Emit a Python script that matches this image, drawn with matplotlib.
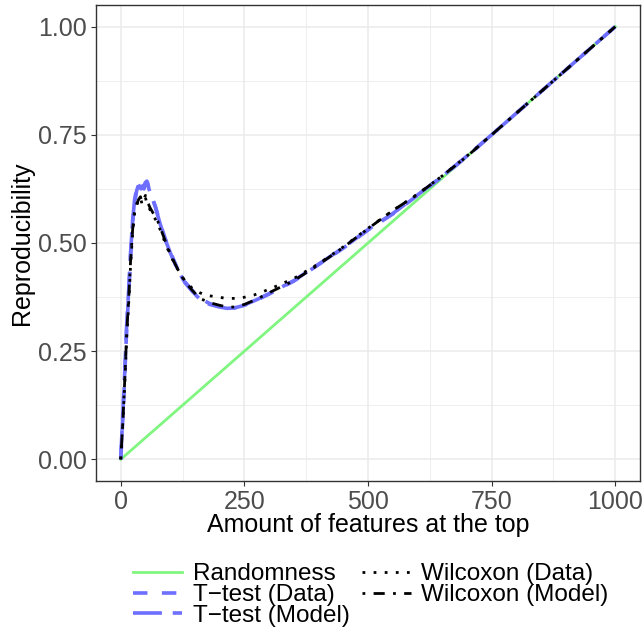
import matplotlib

matplotlib.use("Agg")
import matplotlib.pyplot as plt
from matplotlib.ticker import MultipleLocator

plt.rcParams["font.family"] = ["Liberation Sans", "DejaVu Sans"]

# random ranking: reproducibility grows linearly with the number of features
rand_x = [0, 1000]
rand_y = [0.0, 1.0]

ttest_data_x = [0, 4, 8, 12, 16, 20, 24, 28, 32, 36, 38, 40, 43, 46, 50, 53, 56,
                60, 65, 70, 75, 80, 90, 100, 115, 130, 145, 160, 180, 200, 215,
                230, 250, 275, 300, 350, 400, 450, 500, 550, 600, 650, 700, 750,
                800, 850, 900, 950, 1000]
ttest_data_y = [0.0, 0.09, 0.19, 0.30, 0.38, 0.47, 0.55, 0.59, 0.62, 0.635, 0.64,
                0.63, 0.622, 0.63, 0.64, 0.643, 0.63, 0.615, 0.60, 0.585, 0.565,
                0.545, 0.51, 0.48, 0.44, 0.41, 0.39, 0.372, 0.360, 0.353, 0.350,
                0.350, 0.356, 0.368, 0.382, 0.412, 0.450, 0.488, 0.530, 0.567,
                0.610, 0.653, 0.700, 0.750, 0.800, 0.850, 0.900, 0.950, 1.0]

ttest_model_x = [0, 4, 8, 12, 16, 20, 24, 28, 32, 35, 38, 41, 44, 47, 50, 54, 57,
                 61, 65, 70, 75, 80, 90, 100, 115, 130, 145, 160, 180, 200, 215,
                 230, 250, 275, 300, 350, 400, 450, 500, 550, 600, 650, 700, 750,
                 800, 850, 900, 950, 1000]
ttest_model_y = [0.0, 0.10, 0.20, 0.31, 0.39, 0.48, 0.55, 0.60, 0.625, 0.638, 0.63,
                 0.625, 0.632, 0.625, 0.638, 0.640, 0.625, 0.612, 0.60, 0.583,
                 0.563, 0.543, 0.508, 0.478, 0.438, 0.408, 0.388, 0.370, 0.358,
                 0.352, 0.349, 0.350, 0.357, 0.369, 0.383, 0.413, 0.451, 0.489,
                 0.531, 0.568, 0.611, 0.654, 0.701, 0.750, 0.800, 0.850, 0.900,
                 0.950, 1.0]

wilc_data_x = [0, 4, 8, 12, 16, 20, 24, 28, 32, 36, 40, 43, 46, 50, 53, 56, 60,
               65, 70, 75, 80, 90, 100, 115, 130, 145, 160, 170, 190, 215, 240,
               270, 300, 350, 400, 450, 500, 550, 600, 650, 700, 750, 800, 850,
               900, 950, 1000]
wilc_data_y = [0.0, 0.08, 0.17, 0.28, 0.36, 0.45, 0.52, 0.57, 0.585, 0.60, 0.605,
               0.59, 0.598, 0.605, 0.59, 0.585, 0.575, 0.565, 0.555, 0.545, 0.53,
               0.50, 0.472, 0.44, 0.412, 0.395, 0.385, 0.380, 0.376, 0.372,
               0.372, 0.380, 0.393, 0.418, 0.452, 0.491, 0.534, 0.575, 0.613,
               0.655, 0.701, 0.750, 0.800, 0.850, 0.900, 0.950, 1.0]

wilc_model_x = [0, 4, 8, 12, 16, 20, 24, 28, 32, 36, 40, 43, 46, 50, 53, 56, 60,
                65, 70, 75, 80, 90, 100, 115, 130, 145, 160, 180, 200, 215, 230,
                250, 275, 300, 350, 400, 450, 500, 550, 600, 650, 700, 750, 800,
                850, 900, 950, 1000]
wilc_model_y = [0.0, 0.08, 0.18, 0.29, 0.37, 0.46, 0.53, 0.575, 0.59, 0.60, 0.607,
                0.595, 0.60, 0.61, 0.596, 0.59, 0.58, 0.57, 0.56, 0.55, 0.535,
                0.505, 0.475, 0.44, 0.41, 0.39, 0.372, 0.362, 0.356, 0.352,
                0.352, 0.358, 0.370, 0.385, 0.413, 0.450, 0.490, 0.533, 0.575,
                0.612, 0.655, 0.700, 0.750, 0.800, 0.850, 0.900, 0.950, 1.0]

GREEN = "#80F580"
BLUE = "#6E6EFF"

fig = plt.figure(figsize=(6.43, 6.32), dpi=100)
ax = fig.add_axes([96 / 643, 1 - 481 / 632, 544 / 643, 476 / 632])

ax.plot(rand_x, rand_y, color=GREEN, lw=2.0, label="Randomness", zorder=3)
ax.plot(ttest_data_x, ttest_data_y, color=BLUE, lw=2.6, ls=(0, (4, 4)),
        label="T\u2212test (Data)", zorder=4)
ax.plot(ttest_model_x, ttest_model_y, color=BLUE, lw=2.6, ls=(0, (8, 3)),
        label="T\u2212test (Model)", zorder=4)
ax.plot(wilc_data_x, wilc_data_y, color="black", lw=2.0, ls=(0, (1, 3)),
        label="Wilcoxon (Data)", zorder=5)
ax.plot(wilc_model_x, wilc_model_y, color="black", lw=2.0, ls=(0, (1, 3, 4, 3)),
        label="Wilcoxon (Model)", zorder=5)

ax.set_xlim(-50, 1050)
ax.set_ylim(-0.05, 1.05)
ax.xaxis.set_major_locator(MultipleLocator(250))
ax.xaxis.set_minor_locator(MultipleLocator(125))
ax.yaxis.set_major_locator(MultipleLocator(0.25))
ax.yaxis.set_minor_locator(MultipleLocator(0.125))
ax.yaxis.set_major_formatter(plt.FuncFormatter(lambda v, _: f"{v:.2f}"))
ax.grid(which="major", color="#EBEBEB", lw=1.1)
ax.grid(which="minor", color="#EBEBEB", lw=0.6)
ax.set_axisbelow(True)
ax.tick_params(which="major", length=3.5, width=0.8, color="#333333",
               labelsize=18, labelcolor="#4D4D4D", pad=3)
ax.tick_params(which="minor", length=0)
for s in ax.spines.values():
    s.set_color("#333333")
    s.set_linewidth(1.0)

ax.set_xlabel("Amount of features at the top", fontsize=18, labelpad=-1)
ax.set_ylabel("Reproducibility", fontsize=18, labelpad=3)

fig.legend(loc="upper center", bbox_to_anchor=(0.577, 0.128), ncol=2,
           frameon=False, fontsize=17.5, handlelength=2.0, labelspacing=-0.05,
           columnspacing=0.5, handletextpad=0.45, borderpad=0)

fig.savefig("out.png", dpi=100)
